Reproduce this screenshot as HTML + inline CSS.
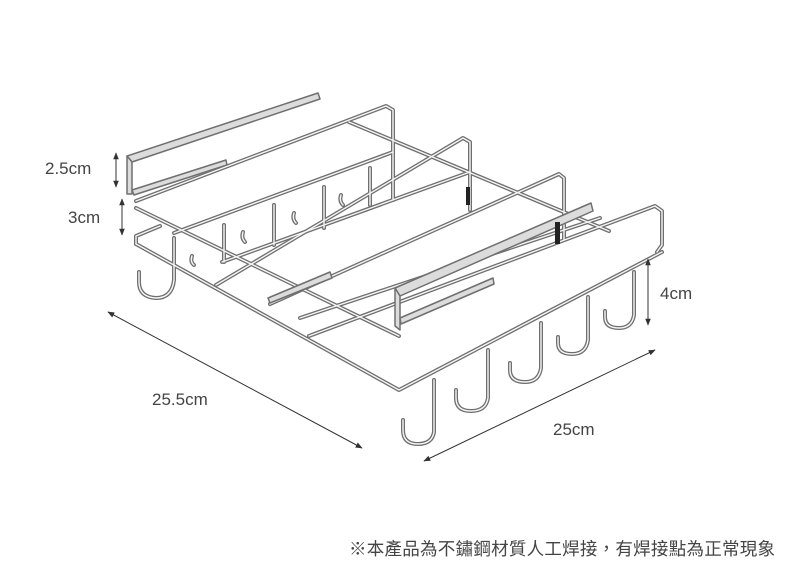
<!DOCTYPE html>
<html><head><meta charset="utf-8"><style>
html,body{margin:0;padding:0;background:#fff;width:790px;height:580px;overflow:hidden}
svg{display:block}
text{font-family:"Liberation Sans","Noto Sans CJK TC",sans-serif;fill:#444}
.w{fill:none;stroke:#6f6f6f;stroke-width:4;stroke-linecap:round;stroke-linejoin:round}
.h{fill:none;stroke:#f6f6f6;stroke-width:1.4;stroke-linecap:round;stroke-linejoin:round}
.p{fill:#dcdcdc;stroke:#6f6f6f;stroke-width:1.5;stroke-linejoin:round}
.d{stroke:#333;stroke-width:1;fill:none}
</style></head><body>
<svg width="790" height="580" viewBox="0 0 790 580">
<defs>
<marker id="a" viewBox="0 0 10 10" refX="9" refY="5" markerWidth="7" markerHeight="7" orient="auto-start-reverse"><path d="M0,1 L10,5 L0,9 z" fill="#333"/></marker>
<g id="wires">
<path d="M136,201 L386,106 L393,110 L393,200"/>
<path d="M174,233 L393,152"/>
<path d="M216,285 L463,138 L470,142 L470,210"/>
<path d="M222,262 L470,172"/>
<path d="M270,304 L559,174 L564,178 L564,240"/>
<path d="M309,336 L655,206 L662,211 L662,245 L657,252"/>
<path d="M300,318 L600,218"/>
<path d="M136,208 L399,336"/>
<path d="M349,122 L609,231"/>
<path d="M136,244 L136,236 L160,226"/>
<path d="M136,244 L399,390 L662,252"/>
<path d="M174,238 L174,280 Q172,298 156,298 Q139,297 139,282 L139,272"/>
<path d="M224,225 L224,262"/>
<path d="M274,205 L274,245"/>
<path d="M324,187 L324,228"/>
<path d="M370,168 L370,205"/>
<path d="M194,265 Q190,262 192,256"/>
<path d="M245,242 Q241,238 243,232"/>
<path d="M296,223 Q292,219 294,213"/>
<path d="M343,205 Q339,201 341,195"/>
<path d="M434,380 L434,432 Q432,444 418,444 Q403,444 403,430 L403,420"/>
<path d="M488,350 L488,398 Q486,411 471,411 Q456,411 456,398 L456,390"/>
<path d="M541,323 L541,368 Q539,382 525,382 Q510,382 510,370 L510,363"/>
<path d="M588,297 L588,340 Q586,354 572,354 Q558,354 558,343 L558,337"/>
<path d="M634,272 L634,315 Q632,328 619,328 Q605,328 605,317 L605,311"/>
</g>
</defs>
<path class="p" d="M127,156 L318,93 L320,99 L132,162 Z"/>
<path class="p" d="M127,156 L132,162 L132,194 L127,194 Z"/>
<path class="p" d="M132,190 L226,160 L227,165 L134,195 Z"/>
<g class="w"><use href="#wires"/></g>
<g class="h"><use href="#wires"/></g>
<path class="p" d="M395,288 L591,203 L593,211 L400,296 Z"/>
<path class="p" d="M395,288 L400,296 L400,330 L395,326 Z"/>
<path class="p" d="M400,318 L493,278 L494,284 L401,324 Z"/>
<rect x="555" y="222" width="5" height="22" fill="#222"/>
<rect x="466" y="187" width="4" height="18" fill="#222"/>
<path class="p" d="M268,298 L330,272 L332,278 L270,303 Z"/>
<line class="d" x1="116" y1="153" x2="116" y2="187" marker-start="url(#a)" marker-end="url(#a)"/>
<line class="d" x1="122" y1="199" x2="122" y2="235" marker-start="url(#a)" marker-end="url(#a)"/>
<line class="d" x1="648" y1="259" x2="648" y2="325" marker-start="url(#a)" marker-end="url(#a)"/>
<line class="d" x1="108" y1="312" x2="362" y2="448" marker-start="url(#a)" marker-end="url(#a)"/>
<line class="d" x1="424" y1="461" x2="655" y2="350" marker-start="url(#a)" marker-end="url(#a)"/>
<text x="45" y="174" font-size="17">2.5cm</text>
<text x="68" y="223" font-size="17">3cm</text>
<text x="660" y="299" font-size="17">4cm</text>
<text x="152" y="405" font-size="17">25.5cm</text>
<text x="553" y="435" font-size="17">25cm</text>
<text x="349" y="555" font-size="17.5" textLength="426">※本產品為不鏽鋼材質人工焊接，有焊接點為正常現象</text>
</svg>
</body></html>
